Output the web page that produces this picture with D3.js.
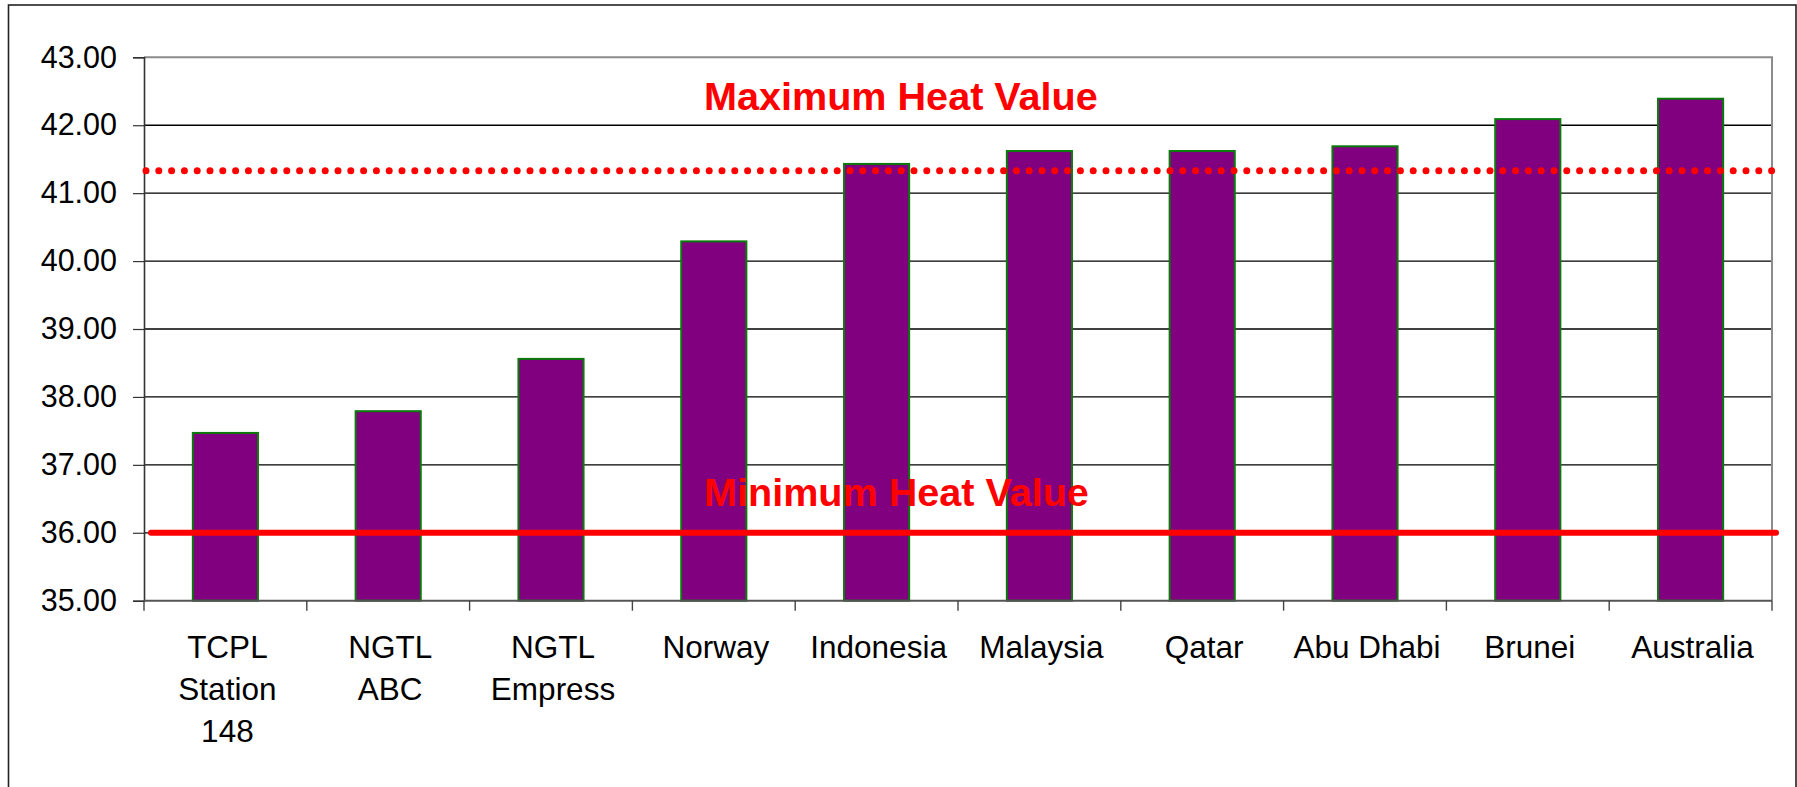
<!DOCTYPE html>
<html>
<head>
<meta charset="utf-8">
<script src="https://cdn.jsdelivr.net/npm/d3@7"></script>
<style>
  html, body { margin: 0; padding: 0; background: #fff; }
  svg { display: block; font-family: "Liberation Sans", Arial, sans-serif; }
</style>
</head>
<body>
<svg id="chart" width="1797" height="787"></svg>
<script>
// Heating value by gas source
const categories = [
  ["TCPL", "Station", "148"],
  ["NGTL", "ABC"],
  ["NGTL", "Empress"],
  ["Norway"],
  ["Indonesia"],
  ["Malaysia"],
  ["Qatar"],
  ["Abu Dhabi"],
  ["Brunei"],
  ["Australia"]
];
const heatValues = [37.47, 37.79, 38.56, 40.29, 41.43, 41.62, 41.62, 41.69, 42.09, 42.39];
const yTicks = [35, 36, 37, 38, 39, 40, 41, 42, 43];
const maxHeatValue = 41.33;
const minHeatValue = 36;
const maxLabel = "Maximum Heat Value";
const minLabel = "Minimum Heat Value";

const svg = d3.select("#chart");
const plot = { left: 144, right: 1772, top: 57.3, bottom: 600.7 };

// Outer chart frame
svg.append("rect")
  .attr("x", 8.5).attr("y", 5)
  .attr("width", 1787.5).attr("height", 820)
  .attr("fill", "#fff").attr("stroke", "#222").attr("stroke-width", 1.6);

const keys = categories.map(d => d.join(" "));
const x = d3.scaleBand().domain(keys).range([plot.left, plot.right]).padding(0);
const y = d3.scaleLinear().domain([35, 43]).range([plot.bottom, plot.top]);

// Horizontal gridlines
svg.append("g").selectAll("line")
  .data(yTicks.filter(t => t > 35 && t < 43))
  .join("line")
  .attr("x1", plot.left).attr("x2", plot.right)
  .attr("y1", d => y(d)).attr("y2", d => y(d))
  .attr("stroke", "#000").attr("stroke-width", 1.3);

// Plot area border (top and right)
svg.append("path")
  .attr("d", `M${plot.left},${y(43)}H${plot.right}V${plot.bottom}`)
  .attr("fill", "none").attr("stroke", "#8c8c8c").attr("stroke-width", 2);

// Bars: 40% of each category slot, centred
const barW = x.bandwidth() * 0.4;
svg.append("g").selectAll("rect")
  .data(heatValues)
  .join("rect")
  .attr("x", (d, i) => x(keys[i]) + (x.bandwidth() - barW) / 2)
  .attr("y", d => y(d))
  .attr("width", barW)
  .attr("height", d => y(35) - y(d))
  .attr("fill", "#800080")
  .attr("stroke", "#0a7a0a").attr("stroke-width", 2);

// Y axis
const yAxis = d3.axisLeft(y).tickValues(yTicks).tickSize(11).tickPadding(16)
  .tickFormat(d3.format(".2f"));
const gy = svg.append("g").attr("transform", `translate(${plot.left},0)`).call(yAxis);
gy.select(".domain").attr("stroke", "#333").attr("stroke-width", 1.6);
gy.selectAll(".tick line").attr("stroke", "#333").attr("stroke-width", 1.2);
gy.selectAll(".tick text")
  .attr("font-size", 30.5).attr("fill", "#000")
  .attr("font-family", "'Liberation Sans', Arial, sans-serif");

// X axis: ticks sit on category boundaries
const boundaries = keys.map(k => x(k)).concat([plot.right]);
const gx = svg.append("g");
gx.append("line")
  .attr("x1", plot.left).attr("x2", plot.right)
  .attr("y1", plot.bottom).attr("y2", plot.bottom)
  .attr("stroke", "#555").attr("stroke-width", 2);
gx.selectAll("line.tick")
  .data(boundaries)
  .join("line")
  .attr("class", "tick")
  .attr("x1", d => d).attr("x2", d => d)
  .attr("y1", plot.bottom).attr("y2", plot.bottom + 10)
  .attr("stroke", "#444").attr("stroke-width", 1.4);

const labels = svg.append("g");
categories.forEach((lines, i) => {
  const cx = x(keys[i]) + x.bandwidth() / 2 + 2;
  const t = labels.append("text")
    .attr("x", cx).attr("y", plot.bottom + 57)
    .attr("text-anchor", "middle")
    .attr("font-size", 31.5).attr("fill", "#000");
  lines.forEach((ln, j) => {
    t.append("tspan").attr("x", cx).attr("dy", j === 0 ? 0 : 42).text(ln);
  });
});

// Maximum heat value reference (dotted)
svg.append("line")
  .attr("x1", plot.left + 2).attr("x2", plot.right + 5)
  .attr("y1", y(maxHeatValue)).attr("y2", y(maxHeatValue))
  .attr("stroke", "#ff0000").attr("stroke-width", 7)
  .attr("stroke-linecap", "round")
  .attr("stroke-dasharray", "0 12.8");

// Minimum heat value reference (solid)
svg.append("line")
  .attr("x1", plot.left + 7).attr("x2", plot.right + 4)
  .attr("y1", y(minHeatValue)).attr("y2", y(minHeatValue))
  .attr("stroke", "#ff0000").attr("stroke-width", 6)
  .attr("stroke-linecap", "round");

// Reference labels
svg.append("text")
  .attr("x", 704).attr("y", 110)
  .attr("font-size", 39.6).attr("font-weight", "bold").attr("fill", "#ff0000")
  .text(maxLabel);
svg.append("text")
  .attr("x", 704).attr("y", 506)
  .attr("font-size", 39.6).attr("font-weight", "bold").attr("fill", "#ff0000")
  .text(minLabel);
</script>
</body>
</html>
